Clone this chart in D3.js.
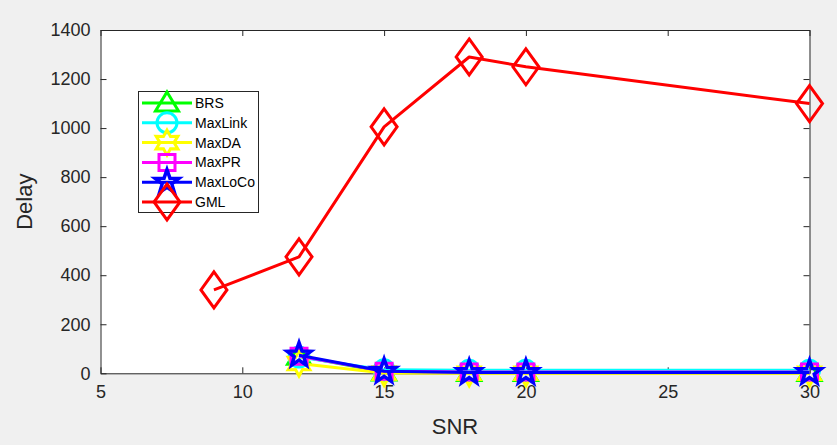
<!DOCTYPE html>
<html><head><meta charset="utf-8">
<script src="https://cdn.jsdelivr.net/npm/d3@7"></script>
<style>body{margin:0;background:#f0f0f0;}svg{display:block;}</style>
</head><body><div id="chart"></div>
<script>
const xTicks = [5, 10, 15, 20, 25, 30];
const yTicks = [0, 200, 400, 600, 800, 1000, 1200, 1400];
const snrShort = [12, 15, 18, 20, 30];
const snrGML = [9, 12, 15, 18, 20, 30];
const brs = [70, 5, 3, 3, 3];
const maxLink = [66, 14, 12, 12, 12];
const maxDA = [40, 1, 0, 0, 0];
const maxPR = [70, 8, 5, 5, 5];
const maxLoCo = [74, 8, 3, 3, 3];
const gml = [340, 475, 1005, 1290, 1250, 1100];
const seriesNames = ["BRS", "MaxLink", "MaxDA", "MaxPR", "MaxLoCo", "GML"];
const seriesColors = ["#00ff00", "#00ffff", "#ffff00", "#ff00ff", "#0000ff", "#ff0000"];
const seriesMarkers = ["triangle", "circle", "hexagram", "square", "pentagram", "diamond"];

const W = 837, H = 445;
const svg = d3.select("#chart").append("svg").attr("width", W).attr("height", H);
svg.append("rect").attr("width", W).attr("height", H).attr("fill", "#f0f0f0");

const L = 100.5, R = 809.5, T = 30, B = 373.3;
const x = d3.scaleLinear().domain([5, 30]).range([L, R]);
const y = d3.scaleLinear().domain([0, 1400]).range([B, T]);

svg.append("rect").attr("x", L).attr("y", T).attr("width", R - L).attr("height", B - T).attr("fill", "#fff");

const font = "'Liberation Sans', Arial, Helvetica, sans-serif";
const axColor = "#262626";

const xAxis = svg.append("g").attr("transform", `translate(0,${B})`)
  .call(d3.axisBottom(x).tickValues(xTicks).tickFormat(d3.format("d")).tickSizeInner(-6).tickSizeOuter(0).tickPadding(12));
const yAxis = svg.append("g").attr("transform", `translate(${L},0)`)
  .call(d3.axisLeft(y).tickValues(yTicks).tickFormat(d3.format("d")).tickSizeInner(-6).tickSizeOuter(0).tickPadding(10));
const xTop = svg.append("g").attr("transform", `translate(0,${T})`)
  .call(d3.axisTop(x).tickValues(xTicks).tickSizeInner(-6).tickSizeOuter(0).tickFormat(""));
const yRight = svg.append("g").attr("transform", `translate(${R},0)`)
  .call(d3.axisRight(y).tickValues(yTicks).tickSizeInner(-6).tickSizeOuter(0).tickFormat(""));
[xAxis, yAxis, xTop, yRight].forEach(g => {
  g.selectAll("path").attr("stroke", axColor).attr("stroke-width", 1);
  g.selectAll("line").attr("stroke", axColor).attr("stroke-width", 1);
  g.selectAll("text").attr("fill", axColor).style("font-family", font).style("font-size", "18px");
});

svg.append("text").attr("x", (L + R) / 2).attr("y", 434).attr("text-anchor", "middle")
  .attr("fill", axColor).style("font-family", font).style("font-size", "22px").text("SNR");
svg.append("text").attr("transform", `translate(32,${(T + B) / 2}) rotate(-90)`).attr("text-anchor", "middle")
  .attr("fill", axColor).style("font-family", font).style("font-size", "22px").text("Delay");

function markerPath(type) {
  const p = d3.path();
  function poly(pts) { pts.forEach((q, i) => i ? p.lineTo(q[0], q[1]) : p.moveTo(q[0], q[1])); p.closePath(); }
  if (type === "triangle") poly([[0, -11], [11.5, 8], [-11.5, 8]]);
  else if (type === "circle") { p.arc(0, 0, 10, 0, 2 * Math.PI); p.closePath(); }
  else if (type === "square") poly([[-8, -8], [8, -8], [8, 8], [-8, 8]]);
  else if (type === "diamond") poly([[0, -18], [13, 0], [0, 18], [-13, 0]]);
  else if (type === "pentagram" || type === "hexagram") {
    const n = type === "pentagram" ? 5 : 6;
    const ro = 12.5, ri = type === "pentagram" ? 5 : 7;
    const pts = [];
    for (let i = 0; i < 2 * n; i++) {
      const a = -Math.PI / 2 + i * Math.PI / n;
      const r = i % 2 ? ri : ro;
      pts.push([r * Math.cos(a), r * Math.sin(a)]);
    }
    poly(pts);
  }
  return p.toString();
}

const seriesValues = [brs, maxLink, maxDA, maxPR, maxLoCo, gml];
const seriesX = [snrShort, snrShort, snrShort, snrShort, snrShort, snrGML];
const line = d3.line().x(d => x(d[0])).y(d => y(d[1]));

const plot = svg.append("g");
seriesNames.forEach((name, i) => {
  const data = seriesX[i].map((s, j) => [s, seriesValues[i][j]]);
  const g = plot.append("g");
  g.append("path").attr("d", line(data)).attr("fill", "none").attr("stroke", seriesColors[i])
    .attr("stroke-width", 3).attr("stroke-linejoin", "round");
  g.selectAll("path.m").data(data).enter().append("path").attr("class", "m")
    .attr("transform", d => `translate(${x(d[0])},${y(d[1])})`)
    .attr("d", markerPath(seriesMarkers[i])).attr("fill", "none")
    .attr("stroke", seriesColors[i]).attr("stroke-width", seriesMarkers[i] === "pentagram" ? 3.5 : 3)
    .attr("stroke-linejoin", "miter");
});

const lg = svg.append("g");
lg.append("rect").attr("x", 138.5).attr("y", 91.5).attr("width", 120).attr("height", 121)
  .attr("fill", "#fff").attr("stroke", axColor).attr("stroke-width", 1);
seriesNames.forEach((name, i) => {
  const yy = 103 + i * 19.8;
  lg.append("line").attr("x1", 142).attr("x2", 192).attr("y1", yy).attr("y2", yy)
    .attr("stroke", seriesColors[i]).attr("stroke-width", 3);
  lg.append("path").attr("transform", `translate(167,${yy})`).attr("d", markerPath(seriesMarkers[i]))
    .attr("fill", "none").attr("stroke", seriesColors[i]).attr("stroke-width", seriesMarkers[i] === "pentagram" ? 3.5 : 3);
  lg.append("text").attr("x", 195).attr("y", yy + 5).attr("fill", "#000")
    .style("font-family", font).style("font-size", "14px").text(name);
});
</script></body></html>
